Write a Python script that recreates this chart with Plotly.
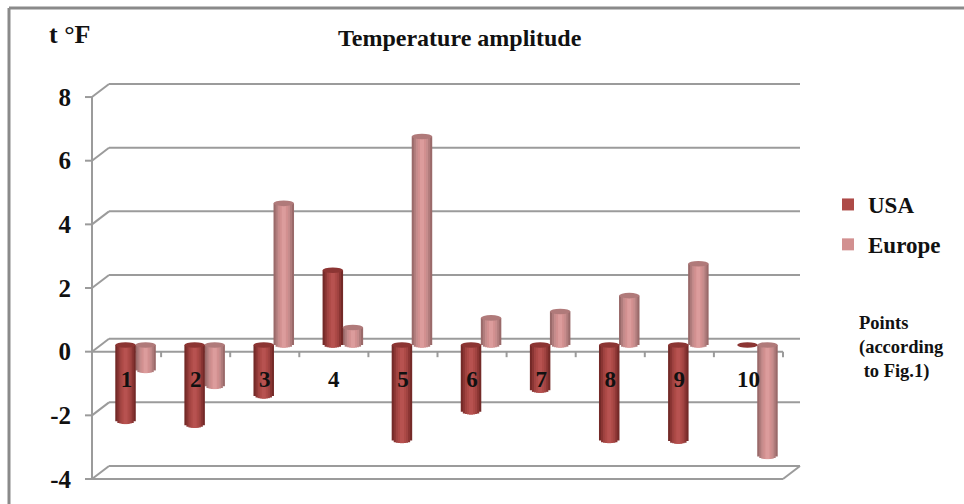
import numpy as np
import plotly.graph_objects as go

categories = [1, 2, 3, 4, 5, 6, 7, 8, 9, 10]
usa = [-2.4, -2.52, -1.6, 2.35, -3.0, -2.1, -1.42, -3.0, -3.02, 0.0]
europe = [-0.8, -1.3, 4.45, 0.55, 6.55, 0.85, 1.05, 1.55, 2.55, -3.5]
y_ticks = [8, 6, 4, 2, 0, -2, -4]
y_labels = ["8", "6", "4", "2", "0", "-2", "-4"]

# shades from the cylinder's edge towards its centre
usa_shades = ["#742a28", "#8a3533", "#a04341", "#ad4a47", "#b75250"]
eur_shades = ["#9a6a6a", "#b07c7c", "#c68c8c", "#d29090", "#dc9c9c"]
GRID = "#9b9b9b"
FONT = "Liberation Serif"

W, H = 964, 504
PX_X = 69.1
PX_Y = 31.83
L, R, T, B = 85, 803, 83, 484
X0 = 92
FRONT_Y0 = 479
xrange = [0.5 - (X0 - L) / PX_X, 0.5 + (R - X0) / PX_X]
yrange = [-4 - (B - FRONT_Y0) / PX_Y, -4 + (FRONT_Y0 - T) / PX_Y]
x_left, x_right = 0.5, 10.5
back_dx, back_dy = 17 / PX_X, 13 / PX_Y
mid_dx, mid_dy = 9 / PX_X, 6.7 / PX_Y
bar_w = 20.5 / PX_X
cap_h = 2.8 / PX_Y

fig = go.Figure()
cats = np.array(categories, float)
shapes = []


def line(x0, y0, x1, y1, w=2, color=GRID):
    shapes.append(dict(type="line", xref="x", yref="y", x0=x0, y0=y0, x1=x1, y1=y1,
                       line=dict(color=color, width=w), layer="below"))


for v in y_ticks:
    line(xrange[0], v, x_left, v)
    line(x_left, v, x_left + back_dx, v + back_dy)
    line(x_left + back_dx, v + back_dy, x_right + back_dx, v + back_dy)
line(x_left, y_ticks[0], x_left, y_ticks[-1])
line(x_left, 0, x_right, 0)
line(x_left, -4, x_right, -4)
line(x_right, -4, x_right + back_dx, -4 + back_dy)
for i in range(len(categories) + 1):
    line(x_left + i, 0, x_left + i, -5.5 / PX_Y)


def add_series(vals, shades, name, off, cap_color, rank):
    vals = np.array(vals, float)
    n = len(shades)
    for k in range(n):
        r = 1 - k / n
        arc = cap_h * np.sqrt(max(1 - r * r, 0))
        top = np.maximum(vals, 0) + mid_dy
        length = np.where(vals == 0, 0, np.abs(vals) + arc)
        fig.add_trace(go.Bar(
            x=cats + mid_dx + off, y=-length, base=top,
            width=bar_w * r, marker=dict(color=shades[k], line=dict(width=0)),
            name=name, legendgroup=name, legendrank=rank, showlegend=(k == 3), hoverinfo="skip"))
    for c, v in zip(cats, vals):
        cx = c + mid_dx + off
        cy = max(v, 0) + mid_dy
        shapes.append(dict(type="circle", xref="x", yref="y", layer="above",
                           x0=cx - bar_w / 2, x1=cx + bar_w / 2,
                           y0=cy - cap_h, y1=cy + cap_h,
                           fillcolor=cap_color, line=dict(width=0)))


add_series(europe, eur_shades, "Europe", 0.145, "#b07a7a", 2)
add_series(usa, usa_shades, "USA", -0.145, "#8c3533", 1)

zero_pos = (0 - yrange[0]) / (yrange[1] - yrange[0])


def px(x):
    return (x - L) / (R - L)


def py(y):
    return (B - y) / (B - T)


frame = dict(color="#8a8a8a", width=3)
for x0, y0, x1, y1 in [(9, 8, W, 8), (9, 8, 9, H)]:
    shapes.append(dict(type="line", xref="paper", yref="paper", layer="below",
                       x0=px(x0), x1=px(x1), y0=py(y0), y1=py(y1), line=frame))


def pt(x, y, text, size, align="center", anchor="center"):
    return dict(x=px(x), y=py(y), xref="paper", yref="paper", text=text, showarrow=False,
                align=align, xanchor=anchor, yanchor="middle",
                font=dict(family=FONT, size=size, color="#111111"))


fig.update_layout(
    width=W, height=H, paper_bgcolor="white", plot_bgcolor="white", barmode="overlay",
    margin=dict(l=L, r=W - R, t=T, b=H - B, autoexpand=False),
    font=dict(family=FONT, color="#111111"),
    xaxis=dict(range=xrange, tickmode="array", tickvals=categories,
               ticktext=[str(c) for c in categories], showgrid=False, zeroline=False, showline=False,
               ticks="", anchor="free", position=zero_pos, ticklabelstandoff=11,
               tickfont=dict(family=FONT, size=23, color="#111111", weight="bold")),
    yaxis=dict(range=yrange, tickmode="array", tickvals=y_ticks, ticktext=y_labels,
               showgrid=False, zeroline=False, showline=False, ticks="", ticklabelstandoff=13,
               tickfont=dict(family=FONT, size=25, color="#111111", weight="bold")),
    legend=dict(x=px(828), y=py(183), xanchor="left", yanchor="top",
                bgcolor="rgba(0,0,0,0)", tracegroupgap=7, traceorder="grouped",
                font=dict(family=FONT, size=23, color="#111111", weight="bold"), itemwidth=30),
    shapes=shapes,
    annotations=[
        pt(460, 38, "<b>Temperature amplitude</b>", 24),
        pt(69, 35, "<b>t °F</b>", 26),
        pt(857, 347, "<b>Points<br>(according<br> to Fig.1)</b>", 18.5, align="left", anchor="left"),
    ],
)

fig.write_html("out.html", config={"displayModeBar": False},
               post_script="document.body.style.margin='0';document.documentElement.style.overflow='hidden';")
